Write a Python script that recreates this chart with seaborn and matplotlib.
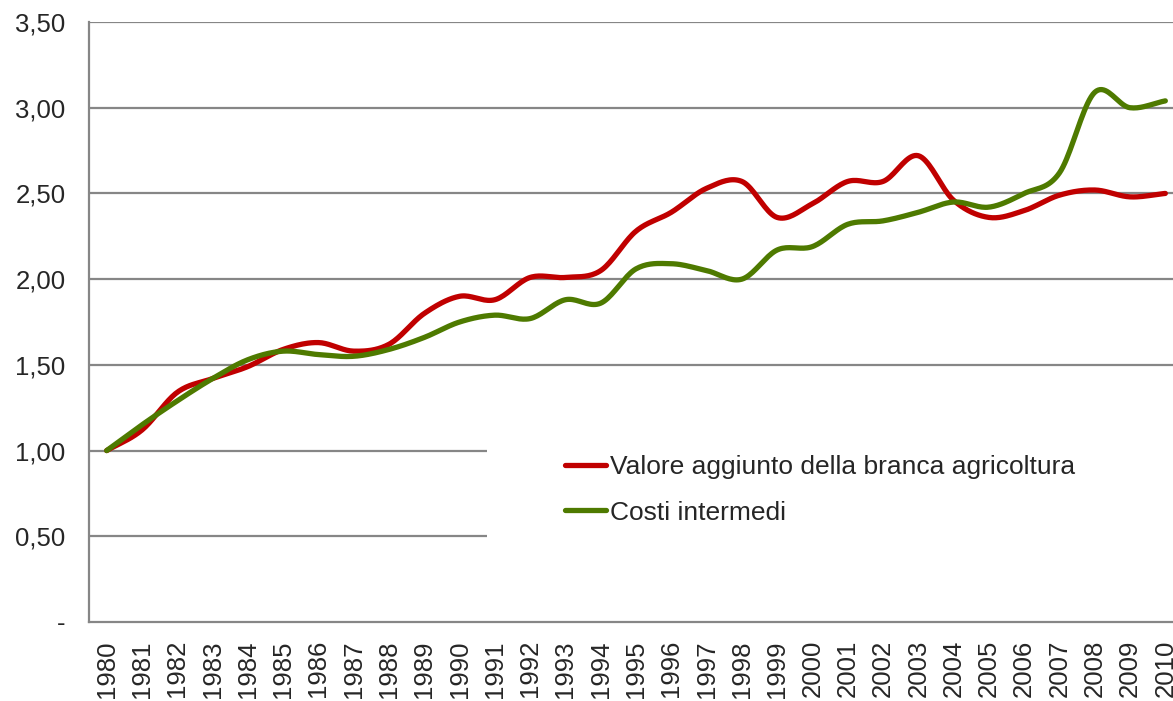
import numpy as np
import pandas as pd
import seaborn as sns
import matplotlib.pyplot as plt
from matplotlib.patches import Rectangle


"""
1. Data read off the chart (index, 1980 = 1)
"""
years = list(range(1980, 2011))
valore_aggiunto = [1.00, 1.12, 1.34, 1.42, 1.49, 1.59, 1.63, 1.58, 1.62, 1.80,
                   1.90, 1.88, 2.01, 2.01, 2.05, 2.28, 2.39, 2.53, 2.57, 2.36,
                   2.44, 2.57, 2.57, 2.72, 2.46, 2.36, 2.40, 2.49, 2.52, 2.48,
                   2.50]
costi_intermedi = [1.00, 1.15, 1.29, 1.42, 1.53, 1.58, 1.56, 1.55, 1.59, 1.66,
                   1.75, 1.79, 1.77, 1.88, 1.86, 2.06, 2.09, 2.05, 2.00, 2.17,
                   2.19, 2.32, 2.34, 2.39, 2.45, 2.42, 2.50, 2.62, 3.09, 3.00,
                   3.04]
series_names = ['Valore aggiunto della branca agricoltura', 'Costi intermedi']
series_colors = ['#C00000', '#4E7A00']
y_ticks = [0, 0.5, 1.0, 1.5, 2.0, 2.5, 3.0, 3.5]
y_tick_labels = ['-', '0,50', '1,00', '1,50', '2,00', '2,50', '3,00', '3,50']


"""
2. Smooth the lines the way the spreadsheet does (Catmull-Rom)
"""


def smooth(values, steps=20):
    p = np.asarray(values, dtype=float)
    x = np.arange(len(p), dtype=float)
    p = np.concatenate([[2 * p[0] - p[1]], p, [2 * p[-1] - p[-2]]])
    xs, ys = [], []
    for i in range(len(values) - 1):
        p0, p1, p2, p3 = p[i], p[i + 1], p[i + 2], p[i + 3]
        t = np.linspace(0, 1, steps, endpoint=False)
        ys.append(0.5 * (2 * p1 + (-p0 + p2) * t
                         + (2 * p0 - 5 * p1 + 4 * p2 - p3) * t ** 2
                         + (-p0 + 3 * p1 - 3 * p2 + p3) * t ** 3))
        xs.append(x[i] + t)
    xs.append([x[-1]])
    ys.append([values[-1]])
    return np.concatenate(xs), np.concatenate(ys)


frames = []
for name, vals in zip(series_names, [valore_aggiunto, costi_intermedi]):
    sx, sy = smooth(vals)
    frames.append(pd.DataFrame({'x': sx, 'y': sy, 'serie': name}))
data = pd.concat(frames, ignore_index=True)


"""
3. Plot
"""
sns.set_style('white')
plt.rcParams['font.family'] = ['Liberation Sans', 'DejaVu Sans']

fig = plt.figure(figsize=(11.73, 7.01), dpi=100)
ax = fig.add_axes([0.0759, 0.1127, 0.9326, 0.8559])

grid_color = '#868686'
for v in y_ticks[1:]:
    ax.axhline(v, color=grid_color, lw=1.6, zorder=1)

# white legend area hides the grid behind it
ax.add_patch(Rectangle((0.364, 0.49 / 3.5), 0.7, (1.07 - 0.49) / 3.5,
                       transform=ax.transAxes, facecolor='white',
                       edgecolor='none', zorder=2))

sns.lineplot(data=data, x='x', y='y', hue='serie', palette=series_colors,
             hue_order=series_names, linewidth=3.8, sort=False,
             estimator=None, ax=ax, zorder=3, legend=False)
for line in ax.lines:
    line.set_solid_capstyle('round')

ax.set_xlim(-0.5, 30.5)
ax.set_ylim(0, 3.5)
ax.set_xlabel('')
ax.set_ylabel('')

ax.set_yticks(y_ticks)
ax.set_yticklabels(y_tick_labels, fontsize=18.5)
ax.set_xticks(range(len(years)))
ax.set_xticklabels([str(y) for y in years], rotation=90, fontsize=18.5)
ax.set_xticks(np.arange(-0.5, 31, 1), minor=True)
ax.tick_params(axis='x', which='major', length=0, pad=13)
ax.tick_params(axis='x', which='minor', length=8, width=1.4,
               color=grid_color, direction='out')
ax.tick_params(axis='y', length=8, width=1.4, color=grid_color,
               direction='out', pad=9)

for side in ['top', 'right']:
    ax.spines[side].set_visible(False)
for side in ['left', 'bottom']:
    ax.spines[side].set_color(grid_color)
    ax.spines[side].set_linewidth(1.6)

handles = [plt.Line2D([], [], color=c, lw=3.8, solid_capstyle='round')
           for c in series_colors]
ax.legend(handles, series_names, loc='center left',
          bbox_to_anchor=(565 / 1173, 1 - 490 / 701),
          bbox_transform=fig.transFigure, frameon=False, fontsize=19,
          handlelength=1.55, handletextpad=0.15, labelspacing=0.8,
          borderaxespad=0, borderpad=0)

fig.savefig('out.png', dpi=100)
